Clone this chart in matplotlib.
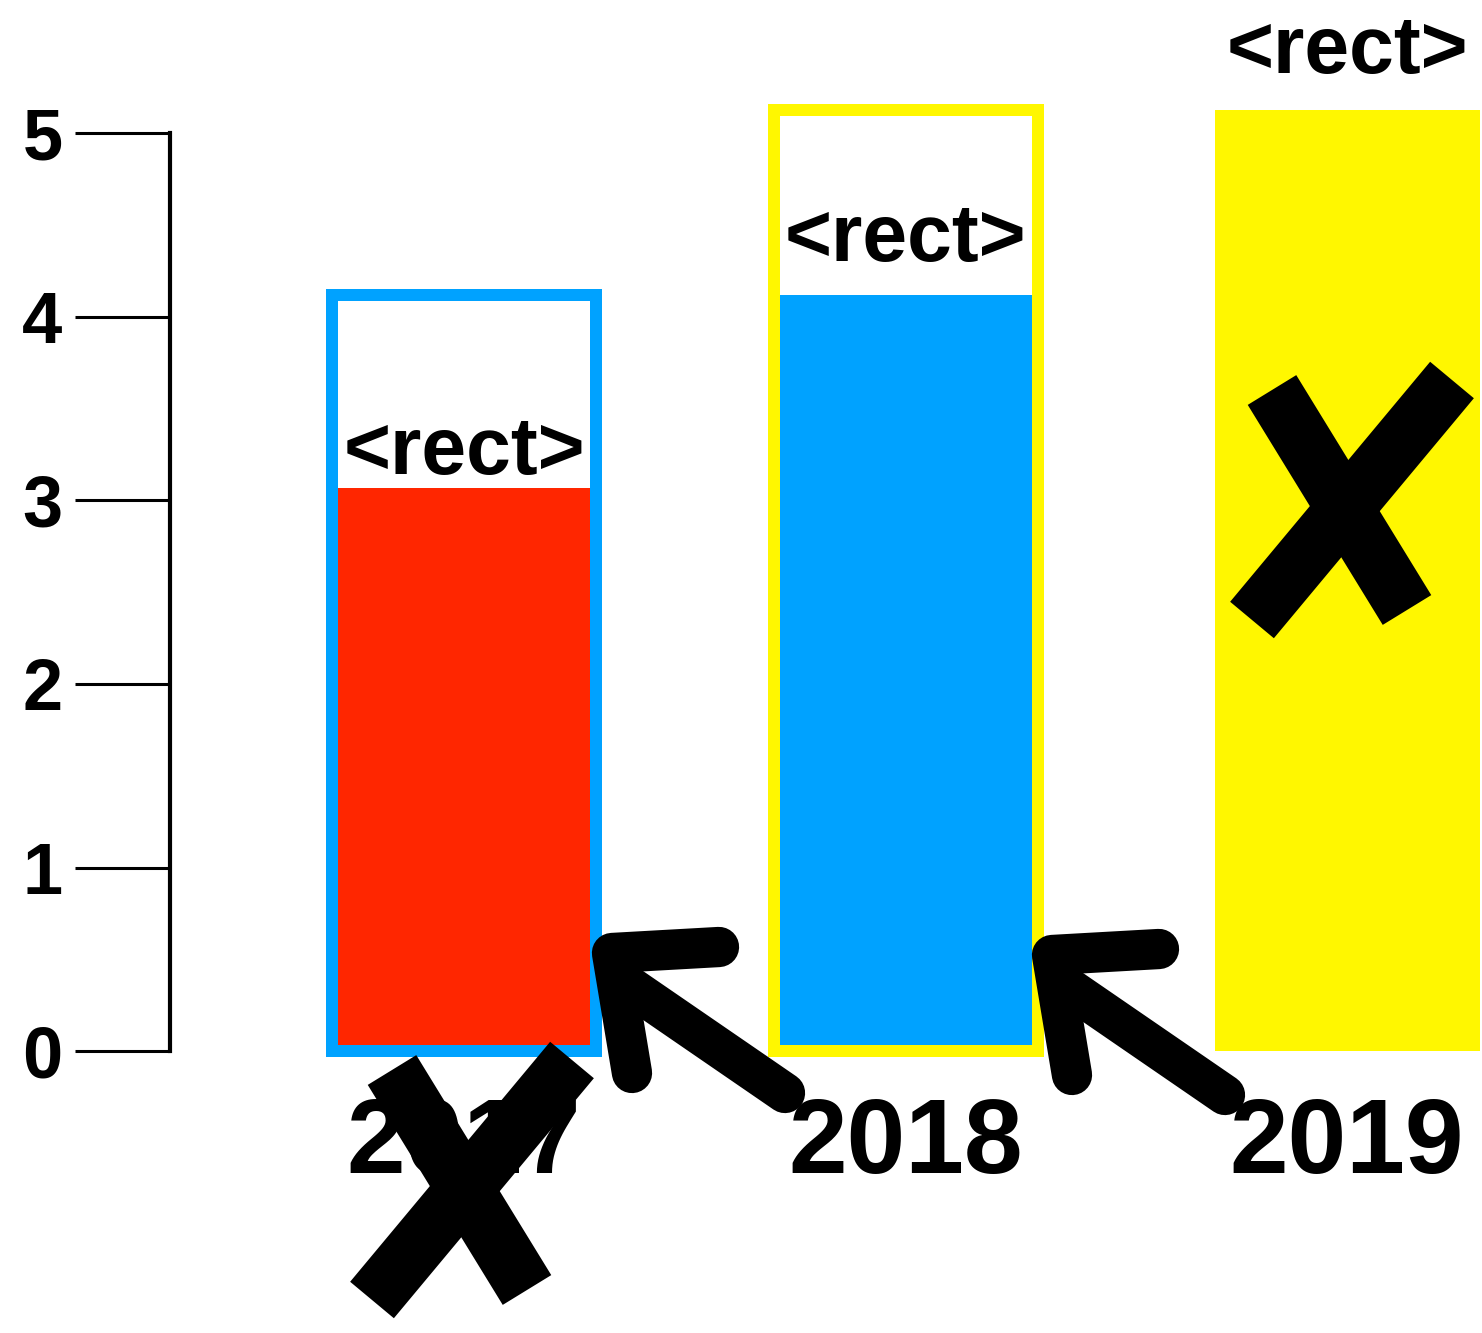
import matplotlib
matplotlib.use("Agg")
import matplotlib.pyplot as plt

# chart data
years = ["2017", "2018", "2019"]
values = [3.07, 4.12, 5.13]
colors = ["#FF2600", "#00A2FF", "#FFF700"]
# outline box = where the next year's bar will be
next_values = [4.12, 5.13, None]
next_colors = ["#00A2FF", "#FFF700", None]
yticks = [0, 1, 2, 3, 4, 5]

W, H = 1482, 1333
fig = plt.figure(figsize=(W / 100, H / 100), dpi=100)
ax = fig.add_axes([0, 0, 1, 1])

# pixel scale: bars 441.5 px apart, 183 px per unit, y=0 at 1051 px from top
sx, sy = 441.5, 183.5
x0, y0 = 464, 1051
ax.set_xlim(-x0 / sx, (W - x0) / sx)
ax.set_ylim(-(H - y0) / sy, y0 / sy)

bar_w = 252 / sx
xs = list(range(len(years)))
widths = [bar_w, bar_w, 265 / sx]
ax.bar(xs, values, width=widths, color=colors, zorder=2)

# outlined boxes
pad = 6 / sx
for i, (v, c) in enumerate(zip(next_values, next_colors)):
    if v is None:
        continue
    ax.bar(i, v, width=bar_w + 2 * pad, bottom=0, facecolor="none",
           edgecolor=c, linewidth=12 * 0.72, zorder=3)

# <rect> labels
lab_off = [14, 34, 37]
for i, v in enumerate(values):
    ax.text(i, v + lab_off[i] / sy, "<rect>", ha="center", va="baseline",
            fontsize=58, fontweight="bold", family="Liberation Sans", zorder=4)

# year labels
for i, y in enumerate(years):
    ax.text(i, -122 / sy, y, ha="center", va="baseline", fontsize=76,
            fontweight="bold", family="Liberation Sans", zorder=4)

# y axis
for s in ["top", "right", "bottom"]:
    ax.spines[s].set_visible(False)
ax.spines["left"].set_position(("data", (170 - x0) / sx))
ax.spines["left"].set_bounds(0, 5)
ax.spines["left"].set_linewidth(3)
ax.set_xticks([])
ax.set_yticks(yticks)
ax.tick_params(axis="y", direction="out", length=95 * 0.72, width=2.2,
               pad=9, labelsize=52)
for t in ax.get_yticklabels():
    t.set_fontweight("bold")
    t.set_family("Liberation Sans")
ax.patch.set_visible(False)

# hand-drawn marks, in pixel space
ov = fig.add_axes([0, 0, 1, 1])
ov.set_xlim(0, W)
ov.set_ylim(H, 0)
ov.axis("off")
ov.patch.set_visible(False)

def cross(cx, cy):
    ov.plot([cx - 70, cx + 65], [cy - 115, cy + 105], color="black",
            lw=41, solid_capstyle="butt")
    ov.plot([cx - 90, cx + 110], [cy + 115, cy - 125], color="black",
            lw=41, solid_capstyle="butt")

cross(462, 1185)
cross(1342, 505)

def arrow(tx, ty):
    ov.plot([tx + 107, tx, tx + 20], [ty - 6, ty, ty + 120], color="black",
            lw=29, solid_capstyle="round", solid_joinstyle="round")
    ov.plot([tx + 10, tx + 173], [ty + 28, ty + 140], color="black",
            lw=29, solid_capstyle="round")

arrow(612, 953)
arrow(1052, 955)

fig.savefig("out.png", dpi=100)
